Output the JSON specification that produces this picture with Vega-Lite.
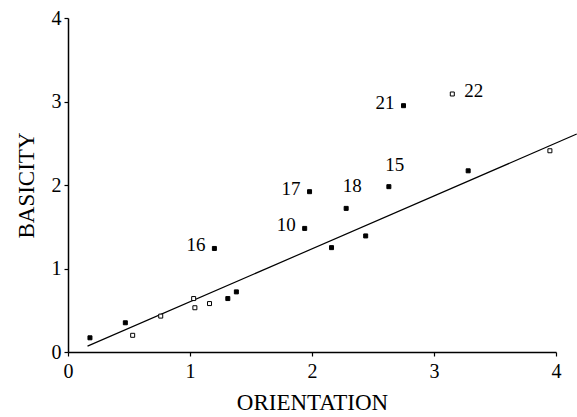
{
  "$schema": "https://vega.github.io/schema/vega-lite/v6.json",
  "width": 488,
  "height": 334,
  "autosize": "none",
  "padding": {"left": 68, "top": 18, "right": 21, "bottom": 65},
  "background": "white",
  "config": {
    "view": {"stroke": null},
    "font": "Liberation Serif",
    "axis": {
      "grid": false,
      "domainColor": "black",
      "tickColor": "black",
      "labelColor": "black",
      "titleColor": "black",
      "labelFont": "Liberation Serif",
      "titleFont": "Liberation Serif",
      "labelFontSize": 20,
      "titleFontSize": 23,
      "titleFontWeight": "normal",
      "tickSize": 4,
      "domainWidth": 1.5,
      "tickWidth": 1.2,
      "labelFlush": false
    }
  },
  "datasets": {
    "pts": [
      {"orientation": 0.18, "basicity": 0.17, "kind": "solid", "label": null},
      {"orientation": 0.47, "basicity": 0.35, "kind": "solid", "label": null},
      {"orientation": 0.53, "basicity": 0.20, "kind": "open", "label": null},
      {"orientation": 0.76, "basicity": 0.43, "kind": "open", "label": null},
      {"orientation": 1.03, "basicity": 0.64, "kind": "open", "label": null},
      {"orientation": 1.04, "basicity": 0.53, "kind": "open", "label": null},
      {"orientation": 1.16, "basicity": 0.58, "kind": "open", "label": null},
      {"orientation": 1.31, "basicity": 0.64, "kind": "solid", "label": null},
      {"orientation": 1.38, "basicity": 0.72, "kind": "solid", "label": null},
      {"orientation": 1.20, "basicity": 1.24, "kind": "solid", "label": "16"},
      {"orientation": 1.94, "basicity": 1.48, "kind": "solid", "label": "10"},
      {"orientation": 1.98, "basicity": 1.92, "kind": "solid", "label": "17"},
      {"orientation": 2.16, "basicity": 1.25, "kind": "solid", "label": null},
      {"orientation": 2.28, "basicity": 1.72, "kind": "solid", "label": "18"},
      {"orientation": 2.44, "basicity": 1.39, "kind": "solid", "label": null},
      {"orientation": 2.63, "basicity": 1.98, "kind": "solid", "label": "15"},
      {"orientation": 2.75, "basicity": 2.95, "kind": "solid", "label": "21"},
      {"orientation": 3.15, "basicity": 3.09, "kind": "open", "label": "22"},
      {"orientation": 3.28, "basicity": 2.17, "kind": "solid", "label": null},
      {"orientation": 3.95, "basicity": 2.41, "kind": "open", "label": null}
    ],
    "fit": [
      {"orientation": 0.16, "basicity": 0.07},
      {"orientation": 4.17, "basicity": 2.61}
    ]
  },
  "layer": [
    {
      "data": {"name": "fit"},
      "mark": {"type": "line", "color": "black", "strokeWidth": 1.2, "clip": false},
      "encoding": {
        "x": {"field": "orientation", "type": "quantitative", "scale": {"domain": [0, 4], "nice": false},
              "axis": {"title": "ORIENTATION", "values": [0, 1, 2, 3, 4], "format": "d", "labelFlush": false, "titlePadding": 10, "labelPadding": 5}},
        "y": {"field": "basicity", "type": "quantitative", "scale": {"domain": [0, 4], "nice": false},
              "axis": {"title": "BASICITY", "values": [0, 1, 2, 3, 4], "format": "d", "labelFlush": false, "titlePadding": 13, "labelPadding": 3}}
      }
    },
    {
      "data": {"name": "pts"},
      "mark": {"type": "point", "shape": "square", "size": 16, "stroke": "black", "strokeWidth": 1, "opacity": 1},
      "encoding": {
        "x": {"field": "orientation", "type": "quantitative"},
        "y": {"field": "basicity", "type": "quantitative"},
        "fill": {"field": "kind", "type": "nominal", "scale": {"domain": ["solid", "open"], "range": ["black", "white"]}, "legend": null}
      }
    },
    {
      "data": {"name": "pts"},
      "transform": [{"filter": "indexof(['16','21','17','10'], datum.label) >= 0"}],
      "mark": {"type": "text", "align": "right", "baseline": "middle", "dx": -9, "dy": -3, "fontSize": 19, "letterSpacing": 2, "font": "Liberation Serif", "color": "black"},
      "encoding": {
        "x": {"field": "orientation", "type": "quantitative"},
        "y": {"field": "basicity", "type": "quantitative"},
        "text": {"field": "label"}
      }
    },
    {
      "data": {"name": "pts"},
      "transform": [{"filter": "datum.label === '22'"}],
      "mark": {"type": "text", "align": "left", "baseline": "middle", "dx": 12, "dy": -3, "fontSize": 19, "letterSpacing": 2, "font": "Liberation Serif", "color": "black"},
      "encoding": {
        "x": {"field": "orientation", "type": "quantitative"},
        "y": {"field": "basicity", "type": "quantitative"},
        "text": {"field": "label"}
      }
    },
    {
      "data": {"name": "pts"},
      "transform": [{"filter": "datum.label === '15' || datum.label === '18'"}],
      "mark": {"type": "text", "align": "center", "baseline": "middle", "dx": 6, "dy": -22, "fontSize": 19, "letterSpacing": 2, "font": "Liberation Serif", "color": "black"},
      "encoding": {
        "x": {"field": "orientation", "type": "quantitative"},
        "y": {"field": "basicity", "type": "quantitative"},
        "text": {"field": "label"}
      }
    }
  ]
}
